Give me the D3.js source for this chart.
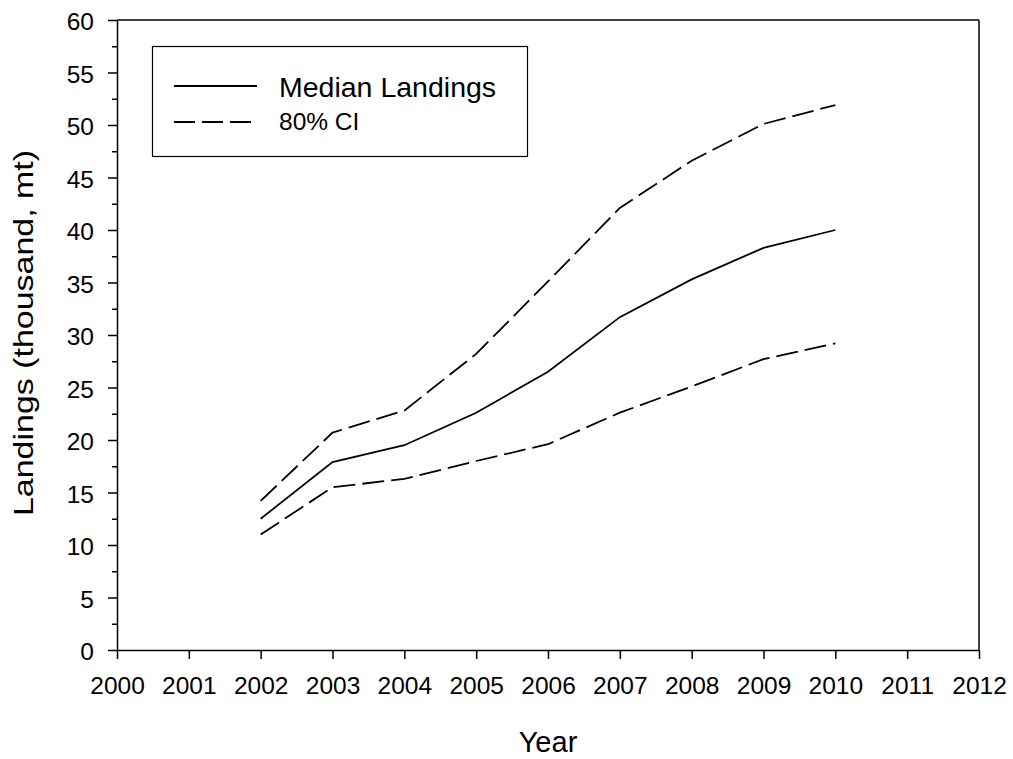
<!DOCTYPE html>
<html>
<head>
<meta charset="utf-8">
<script src="https://cdn.jsdelivr.net/npm/d3@7"></script>
<style>
  html, body { margin: 0; padding: 0; background: #fff; }
  text { font-family: "Liberation Sans", Arial, sans-serif; fill: #000; }
</style>
</head>
<body>
<svg id="chart" width="1013" height="759"></svg>
<script>
const years = [2002, 2003, 2004, 2005, 2006, 2007, 2008, 2009, 2010];
const median = [12.5, 17.9, 19.5, 22.6, 26.5, 31.7, 35.3, 38.3, 40.0];
const upper  = [14.2, 20.7, 22.8, 28.2, 35.1, 42.1, 46.6, 50.1, 51.9];
const lower  = [11.0, 15.5, 16.3, 18.0, 19.6, 22.6, 25.1, 27.7, 29.2];
const xTicks = [2000, 2001, 2002, 2003, 2004, 2005, 2006, 2007, 2008, 2009, 2010, 2011, 2012];
const yTicks = [0, 5, 10, 15, 20, 25, 30, 35, 40, 45, 50, 55, 60];
const yMinorTicks = [2.5, 7.5, 12.5, 17.5, 22.5, 27.5, 32.5, 37.5, 42.5, 47.5, 52.5, 57.5];
const legendLabels = ["Median Landings", "80% CI"];

const svg = d3.select("#chart");
const L = 117, R = 979, T = 20, B = 650;
const x = d3.scaleLinear().domain([2000, 2012]).range([L, R]);
const y = d3.scaleLinear().domain([0, 60]).range([B, T]);

// frame (top & right)
svg.append("line").attr("x1", L).attr("x2", R).attr("y1", T).attr("y2", T)
  .attr("stroke", "#000").attr("stroke-width", 1.5);
svg.append("line").attr("x1", R).attr("x2", R).attr("y1", T).attr("y2", B)
  .attr("stroke", "#000").attr("stroke-width", 1.5);

// x axis
const xAxis = svg.append("g").attr("transform", `translate(0,${B})`)
  .call(d3.axisBottom(x).tickValues(xTicks).tickFormat(d3.format("d")).tickSize(9).tickSizeOuter(0));
xAxis.select(".domain").attr("stroke-width", 1.5);
xAxis.selectAll(".tick line").attr("stroke-width", 1.5);
xAxis.selectAll(".tick text").attr("font-size", "24.5px").attr("font-family", "Liberation Sans, Arial, sans-serif")
  .attr("y", 44).attr("dy", 0);

// y axis
const yAxis = svg.append("g").attr("transform", `translate(${L},0)`)
  .call(d3.axisLeft(y).tickValues(yTicks).tickSize(9).tickSizeOuter(0).tickPadding(14));
yAxis.select(".domain").attr("stroke-width", 1.5);
yAxis.selectAll(".tick line").attr("stroke-width", 1.5);
yAxis.selectAll(".tick text").attr("font-size", "24.5px").attr("font-family", "Liberation Sans, Arial, sans-serif")
  .attr("dy", "0.4em");
const yMinor = svg.append("g").attr("transform", `translate(${L},0)`)
  .call(d3.axisLeft(y).tickValues(yMinorTicks).tickSize(5).tickFormat(""));
yMinor.select(".domain").remove();
yMinor.selectAll(".tick line").attr("stroke-width", 1.5);

// lines
const line = d3.line().x((d, i) => x(years[i])).y(d => y(d));
svg.append("path").datum(upper).attr("d", line).attr("fill", "none")
  .attr("stroke", "#000").attr("stroke-width", 1.8).attr("stroke-dasharray", "22,7");
svg.append("path").datum(lower).attr("d", line).attr("fill", "none")
  .attr("stroke", "#000").attr("stroke-width", 1.8).attr("stroke-dasharray", "22,7");
svg.append("path").datum(median).attr("d", line).attr("fill", "none")
  .attr("stroke", "#000").attr("stroke-width", 1.8);

// legend
const lg = svg.append("g");
lg.append("rect").attr("x", 152.5).attr("y", 46.5).attr("width", 375).attr("height", 110)
  .attr("fill", "#fff").attr("stroke", "#000").attr("stroke-width", 1.2);
lg.append("line").attr("x1", 174).attr("x2", 257).attr("y1", 86).attr("y2", 86)
  .attr("stroke", "#000").attr("stroke-width", 1.8);
lg.append("line").attr("x1", 174).attr("x2", 257).attr("y1", 122).attr("y2", 122)
  .attr("stroke", "#000").attr("stroke-width", 1.8).attr("stroke-dasharray", "21,7");
lg.append("text").attr("x", 279).attr("y", 97).attr("font-size", "28.5px").text(legendLabels[0]);
lg.append("text").attr("x", 279).attr("y", 130).attr("font-size", "24.5px").text(legendLabels[1]);

// axis titles
svg.append("text").attr("transform", "translate(33,333) rotate(-90)")
  .attr("text-anchor", "middle").attr("font-size", "28px")
  .attr("textLength", 366).attr("lengthAdjust", "spacingAndGlyphs")
  .text("Landings (thousand, mt)");
svg.append("text").attr("x", 548).attr("y", 752).attr("text-anchor", "middle")
  .attr("font-size", "29px").text("Year");
</script>
</body>
</html>
